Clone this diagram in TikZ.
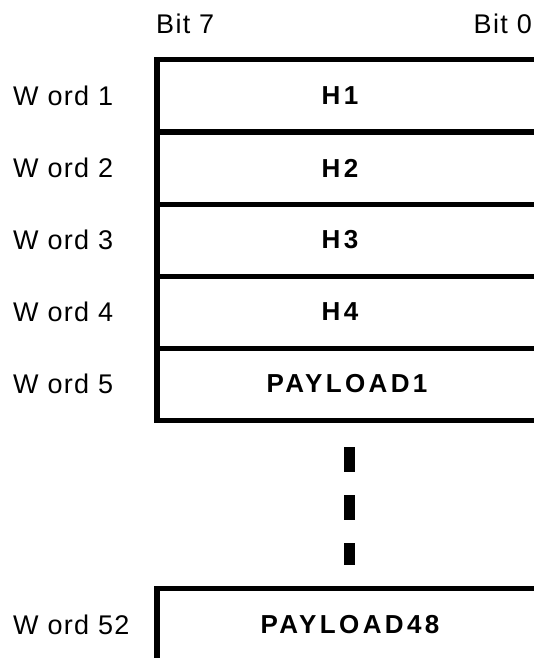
\documentclass[tikz,border=0pt]{standalone}
\usepackage{fontspec}
\setmainfont{Liberation Sans}
\begin{document}
\begin{tikzpicture}[x=1pt,y=-1pt,
  rowline/.style={line width=5pt},
  leftbar/.style={line width=6pt},
  lbl/.style={anchor=west,inner sep=0pt,font=\fontsize{27}{27}\selectfont\addfontfeature{LetterSpace=5}},
  bitlbl/.style={inner sep=0pt,font=\fontsize{27}{27}\selectfont\addfontfeature{LetterSpace=5}},
  field/.style={inner sep=0pt,font=\fontsize{26}{26}\selectfont\bfseries\addfontfeature{LetterSpace=13}},
  dashblock/.style={fill=black}]
\useasboundingbox (0,0) rectangle (534,658);
% header
\node[bitlbl,anchor=west] (b7) at (156,24) {Bit 7};
\node[bitlbl,anchor=east] (b0) at (532,24) {Bit 0};
% rows
\foreach \y in {60,132,204,276,348,420} \draw[rowline] (157,\y) -- (545,\y);
\draw[leftbar] (157,57.5) -- (157,422.5);
\draw[rowline] (157,588.5) -- (545,588.5);
\draw[leftbar] (157,586) -- (157,665);
% word labels
\node[lbl] (w1) at (13,96) {W ord 1};
\node[lbl] (w2) at (13,168) {W ord 2};
\node[lbl] (w3) at (13,240) {W ord 3};
\node[lbl] (w4) at (13,312) {W ord 4};
\node[lbl] (w5) at (13,384) {W ord 5};
\node[lbl] (w52) at (13,625) {W ord 52};
% fields
\node[field] (h1) at (340,96) {H1};
\node[field] (h2) at (340,168) {H2};
\node[field] (h3) at (340,240) {H3};
\node[field] (h4) at (340,312) {H4};
\node[field] (p1) at (347,384) {PAYLOAD1};
\node[field] (p48) at (350,625) {PAYLOAD48};
% continuation marks
\fill[dashblock] (344,447) rectangle (355,472);
\fill[dashblock] (344,495) rectangle (355,520);
\fill[dashblock] (344,543) rectangle (355,565);
\end{tikzpicture}
\end{document}
